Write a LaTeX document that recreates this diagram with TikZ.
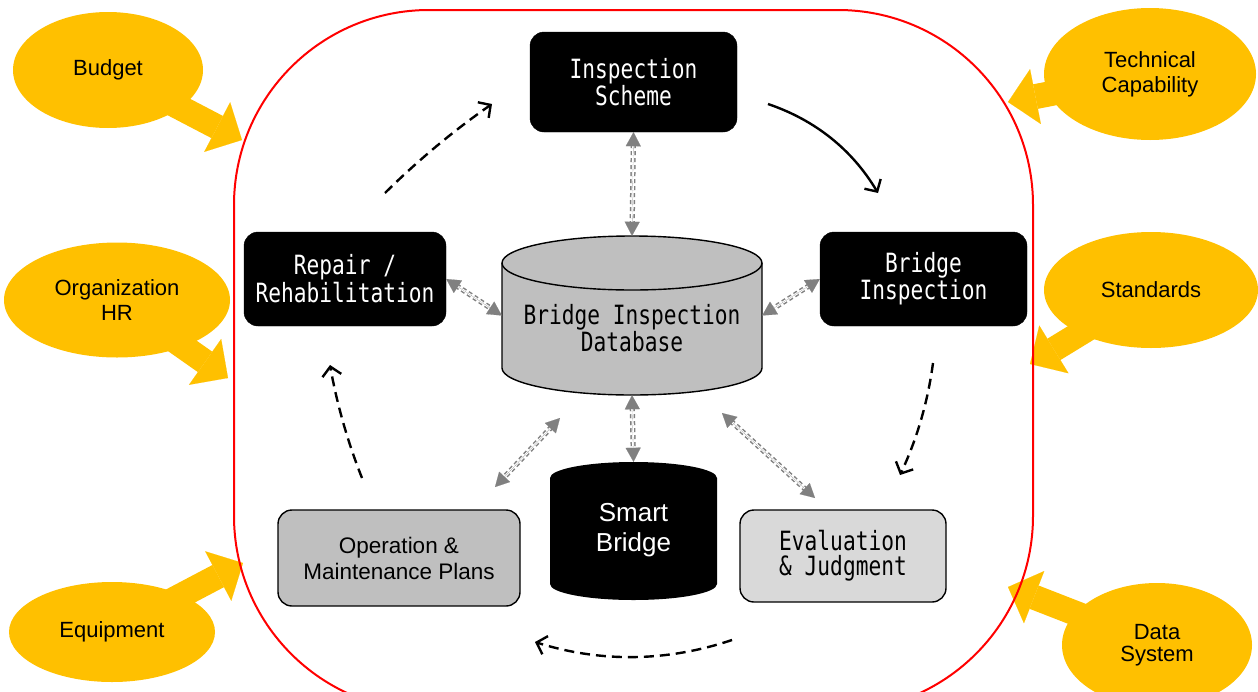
\documentclass[tikz,border=0pt]{standalone}
\usepackage{fontspec}
\setmainfont{Liberation Sans}
\newfontfamily\boxfont[FakeStretch=0.8]{DejaVu Sans Mono}
\usetikzlibrary{arrows.meta,shapes.geometric}
\definecolor{gold}{HTML}{FFC000}
\definecolor{dbgray}{HTML}{BFBFBF}
\definecolor{evgray}{HTML}{D9D9D9}
\definecolor{linkgray}{HTML}{808080}

\begin{document}
\begin{tikzpicture}[x=1pt,y=-1pt,
  factor/.style={ellipse, fill=gold, inner sep=0pt, align=center,
    font=\fontsize{22}{25}\selectfont},
  pointer/.style={draw=gold, line width=25pt, shorten <=-20pt,
    -{Triangle[length=28pt,width=56pt,line width=0.1pt]}},
  darkbox/.style={rounded corners=14pt, fill=black, draw=black, text=white,
    inner sep=0pt, align=center, font=\boxfont\fontsize{26.5}{25}\selectfont},
  greybox/.style={rounded corners=14pt, draw=black, line width=1.4pt,
    inner sep=0pt, align=center},
  flow/.style={line width=2.4pt, -{Straight Barb[length=9pt,width=19pt]}},
  flowdash/.style={flow, dash pattern=on 10pt off 6pt},
  linkline/.style={draw=linkgray, line width=1.5pt, double=white,
    double distance=2.2pt, dash pattern=on 4pt off 3pt,
    shorten >=12pt, shorten <=12pt},
  linktips/.style={draw=linkgray, line width=0.1pt,
    {Triangle[length=14pt,width=15pt,line width=0.1pt]}-{Triangle[length=14pt,width=15pt,line width=0.1pt]}},
]
\useasboundingbox (0,0) rectangle (1258,691);
\clip (0,0) rectangle (1258,691);

% ---- outside factors ----
\node[factor, minimum width=190pt, minimum height=116pt] (budget) at (108,70) {Budget};
\node[factor, minimum width=226pt, minimum height=115pt] (orghr) at (117,300) {Organization\\HR};
\node[factor, minimum width=206pt, minimum height=100pt] (equip) at (112,632) {Equipment};
\node[factor, minimum width=212pt, minimum height=132pt] (techcap) at (1150,74) {Technical\\Capability};
\node[factor, minimum width=214pt, minimum height=116pt] (standards) at (1151,290) {Standards};
\node[factor, minimum width=190pt, minimum height=124pt, font=\fontsize{22}{22}\selectfont] (datasys) at (1157,645) {Data\\System};

\coordinate (budget-tip) at (242,140);
\coordinate (orghr-tip) at (228,378);
\coordinate (equip-tip) at (243,563);
\coordinate (techcap-tip) at (1008,102);
\coordinate (standards-tip) at (1030,364);
\coordinate (datasys-tip) at (1008,587);

\draw[pointer] (budget) -- (budget-tip);
\draw[pointer] (orghr) -- (orghr-tip);
\draw[pointer] (equip) -- (equip-tip);
\draw[pointer] (techcap) -- (techcap-tip);
\draw[pointer] (standards) -- (standards-tip);
\draw[pointer] (datasys) -- (datasys-tip);

% ---- management frame ----
\draw[red, line width=2pt, rounded corners=195pt] (234,10) rectangle (1033,711);

% ---- process steps ----
\node[darkbox, minimum width=207pt, minimum height=100pt] (scheme) at (633.5,82) {Inspection\\Scheme};
\node[darkbox, minimum width=207pt, minimum height=94pt] (bi) at (923.5,279) {Bridge\\Inspection};
\node[darkbox, minimum width=202pt, minimum height=94pt, font=\boxfont\fontsize{26.5}{28}\selectfont] (repair) at (345,279) {Repair /\\Rehabilitation};
\node[greybox, fill=dbgray, minimum width=242pt, minimum height=96pt,
  font=\fontsize{22.5}{26}\selectfont] (om) at (399,558) {Operation \&\\Maintenance Plans};
\node[greybox, fill=evgray, minimum width=206pt, minimum height=92pt,
  font=\boxfont\fontsize{26.5}{25}\selectfont] (ev) at (843,556) {Evaluation\\\& Judgment};

% ---- database cylinder ----
\node[inner sep=0pt, minimum width=260pt, minimum height=159pt] (db) at (632,315.5) {};
\filldraw[fill=dbgray, draw=black, line width=1.4pt]
  (502,263) -- (502,368) arc[start angle=180, end angle=360, x radius=130pt, y radius=27pt]
  -- (762,263) arc[start angle=0, end angle=180, x radius=130pt, y radius=27pt] -- cycle;
\draw[line width=1.4pt] (502,263) arc[start angle=180, end angle=360, x radius=130pt, y radius=27pt];
\node[align=center, font=\boxfont\fontsize{26.5}{25}\selectfont] (dblabel) at (632,328) {Bridge Inspection\\Database};

% ---- smart bridge cylinder ----
\node[inner sep=0pt, minimum width=167pt, minimum height=138pt] (sb) at (633.5,531) {};
\fill[black]
  (550,478) -- (550,584) arc[start angle=180, end angle=360, x radius=83.5pt, y radius=16pt]
  -- (717,478) arc[start angle=0, end angle=180, x radius=83.5pt, y radius=16pt] -- cycle;
\node[align=center, text=white, font=\fontsize{26}{30}\selectfont] (sblabel) at (633.5,530) {Smart\\Bridge};

% ---- data links to the database ----
\coordinate (om-end) at (495,487);
\coordinate (db-om) at (560,418);
\coordinate (ev-end) at (815,498);
\coordinate (db-ev) at (722,413);

\draw[linkline] (scheme.south) -- (db.north);
\draw[linktips] (scheme.south) -- (db.north);
\draw[linkline] (repair.east) -- (db.west);
\draw[linktips] (repair.east) -- (db.west);
\draw[linkline] (bi.west) -- (db.east);
\draw[linktips] (bi.west) -- (db.east);
\draw[linkline] (db.south) -- (sb.north);
\draw[linktips] (db.south) -- (sb.north);
\draw[linkline] (db-om) -- (om-end);
\draw[linktips] (db-om) -- (om-end);
\draw[linkline] (db-ev) -- (ev-end);
\draw[linktips] (db-ev) -- (ev-end);

% ---- management cycle ----
\coordinate (c1s) at (768,104);  \coordinate (c1e) at (878,193);
\coordinate (c2s) at (933,363);  \coordinate (c2e) at (900,475);
\coordinate (c3s) at (732,640);  \coordinate (c3e) at (535,642);
\coordinate (c4s) at (362,478);  \coordinate (c4e) at (330,365);
\coordinate (c5s) at (385,193);  \coordinate (c5e) at (492,104);

\draw[flow] (c1s) .. controls (815.6,120.2) and (852.2,149.8) .. (c1e);
\draw[flowdash] (c2s) .. controls (927.8,402) and (916.8,439.4) .. (c2e);
\draw[flowdash] (c3s) .. controls (666.3,662) and (600.7,662.6) .. (c3e);
\draw[flowdash] (c4s) .. controls (347.5,441.4) and (336.9,403.8) .. (c4e);
\draw[flowdash] (c5s) .. controls (418.1,160.2) and (453.7,130.6) .. (c5e);
\end{tikzpicture}
\end{document}
